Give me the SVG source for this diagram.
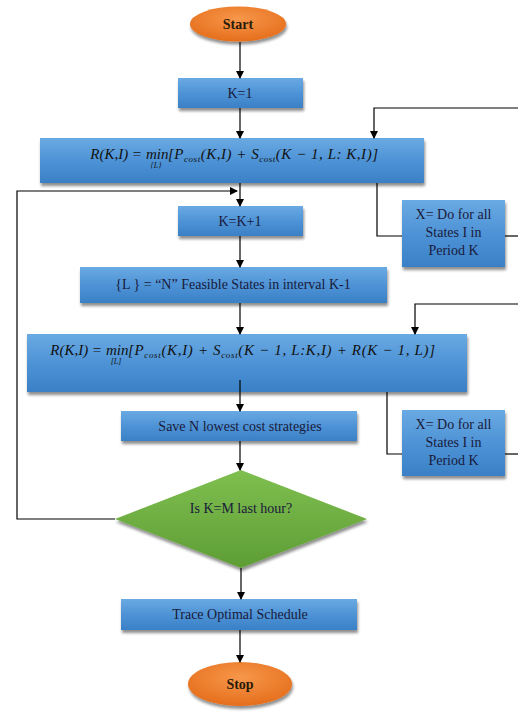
<svg xmlns="http://www.w3.org/2000/svg" width="518" height="713" viewBox="0 0 518 713">
<defs>
<linearGradient id="gb" x1="0" y1="0" x2="0" y2="1">
<stop offset="0" stop-color="#6aaae3"/>
<stop offset="0.5" stop-color="#4e93d6"/>
<stop offset="1" stop-color="#3a80c6"/>
</linearGradient>
<radialGradient id="go" cx="0.5" cy="0.35" r="0.65">
<stop offset="0" stop-color="#f7974a"/>
<stop offset="1" stop-color="#e56e1c"/>
</radialGradient>
<linearGradient id="gg" x1="0" y1="0" x2="0" y2="1">
<stop offset="0" stop-color="#7fbf50"/>
<stop offset="1" stop-color="#5e9d35"/>
</linearGradient>
<filter id="sh" x="-10%" y="-20%" width="120%" height="160%">
<feGaussianBlur in="SourceAlpha" stdDeviation="1.5"/>
<feOffset dx="1" dy="2.5" result="b"/>
<feComponentTransfer><feFuncA type="linear" slope="0.45"/></feComponentTransfer>
<feMerge><feMergeNode/><feMergeNode in="SourceGraphic"/></feMerge>
</filter>
<marker id="ar" markerWidth="8" markerHeight="8" refX="7" refY="4" orient="auto" markerUnits="userSpaceOnUse">
<path d="M0,0 L8,4 L0,8 z" fill="#000"/>
</marker>
</defs>
<style>
.box{fill:url(#gb);filter:url(#sh);}
.ov{fill:url(#go);filter:url(#sh);}
.dia{fill:url(#gg);filter:url(#sh);}
.t{font-family:"Liberation Serif","Times New Roman",serif;font-size:14px;fill:#1a1a3a;text-anchor:middle;}
.tb{font-family:"Liberation Serif","Times New Roman",serif;font-size:14px;font-weight:bold;fill:#2a1a0a;text-anchor:middle;}
.m{font-family:"Liberation Serif","DejaVu Serif",serif;font-size:15px;font-style:italic;fill:#111;}
.ms{font-family:"Liberation Serif","DejaVu Serif",serif;font-size:8px;font-style:italic;fill:#111;text-anchor:middle;}
.s{font-size:9px;}
.c{fill:none;stroke:#000;stroke-width:1.2;}
.a{fill:none;stroke:#000;stroke-width:1.2;marker-end:url(#ar);}
</style>

<g id="start"><ellipse class="ov" cx="238" cy="24" rx="48" ry="17.5"/><text class="tb" x="238" y="28.5">Start</text></g>
<g id="k1"><rect class="box" x="178" y="78" width="125" height="30"/><text class="t" x="240" y="97.5">K=1</text></g>
<g id="f1"><rect class="box" x="40" y="138" width="384" height="45"/>
<text class="m" x="142" y="158.5" text-anchor="end">R(K,I) =</text>
<text class="m" x="146" y="158.5">min</text>
<text class="ms" x="156" y="168">{L}</text>
<text class="m" x="168" y="158.5" textLength="210" lengthAdjust="spacing">[P<tspan class="s" dy="3">cost</tspan><tspan dy="-3">(K,I) + S</tspan><tspan class="s" dy="3">cost</tspan><tspan dy="-3">(K − 1, L: K,I)]</tspan></text>
</g>
<g id="x1"><rect class="box" x="402" y="200" width="103" height="67"/>
<text class="t" x="453.5" y="219">X= Do for all</text><text class="t" x="453.5" y="237">States I in</text><text class="t" x="453.5" y="255">Period K</text></g>
<g id="kk"><rect class="box" x="178" y="206" width="125" height="30"/><text class="t" x="240" y="225.5">K=K+1</text></g>
<g id="lset"><rect class="box" x="80" y="267" width="307" height="36"/><text class="t" x="233" y="289">{L } = “N” Feasible States in interval K-1</text></g>
<g id="f2"><rect class="box" x="27" y="334" width="440" height="58"/>
<text class="m" x="102" y="355" text-anchor="end">R(K,I) =</text>
<text class="m" x="106" y="355">min</text>
<text class="ms" x="116" y="364">[L]</text>
<text class="m" x="128" y="355" textLength="307" lengthAdjust="spacing">[P<tspan class="s" dy="3">cost</tspan><tspan dy="-3">(K,I) + S</tspan><tspan class="s" dy="3">cost</tspan><tspan dy="-3">(K − 1, L:K,I) + R(K − 1, L)]</tspan></text>
</g>
<g id="x2"><rect class="box" x="402" y="410" width="103" height="66"/>
<text class="t" x="453.5" y="429">X= Do for all</text><text class="t" x="453.5" y="447">States I in</text><text class="t" x="453.5" y="465">Period K</text></g>
<g id="save"><rect class="box" x="121" y="411" width="236" height="30"/><text class="t" x="240" y="430.5">Save N lowest cost strategies</text></g>
<g id="dec"><polygon class="dia" points="241,470 367,519 241,568 115,519"/><text class="t" x="241" y="513">Is K=M last hour?</text></g>
<g id="trace"><rect class="box" x="121" y="599" width="236" height="31"/><text class="t" x="240" y="618.5">Trace Optimal Schedule</text></g>
<g id="stop"><ellipse class="ov" cx="240" cy="684" rx="52" ry="22"/><text class="tb" x="240" y="688.5">Stop</text></g>

<g id="connectors">
<path class="a" d="M240,42 V78"/>
<path class="a" d="M240,108 V138"/>
<path class="a" d="M518,108 H374 V138"/>
<path class="c" d="M377,183 V236 H402"/>
<path class="c" d="M505,236 H518"/>
<path class="a" d="M240,183 V206"/>
<path class="a" d="M115,519 H17 V191 H237"/>
<path class="a" d="M240,236 V267"/>
<path class="a" d="M240,303 V334"/>
<path class="a" d="M518,304 H415 V334"/>
<path class="a" d="M240,380 V411"/>
<path class="c" d="M387,392 V454 H402"/>
<path class="c" d="M505,454 H518"/>
<path class="a" d="M240,441 V470"/>
<path class="a" d="M241,568 V599"/>
<path class="a" d="M240,630 V662"/>
</g>
</svg>
